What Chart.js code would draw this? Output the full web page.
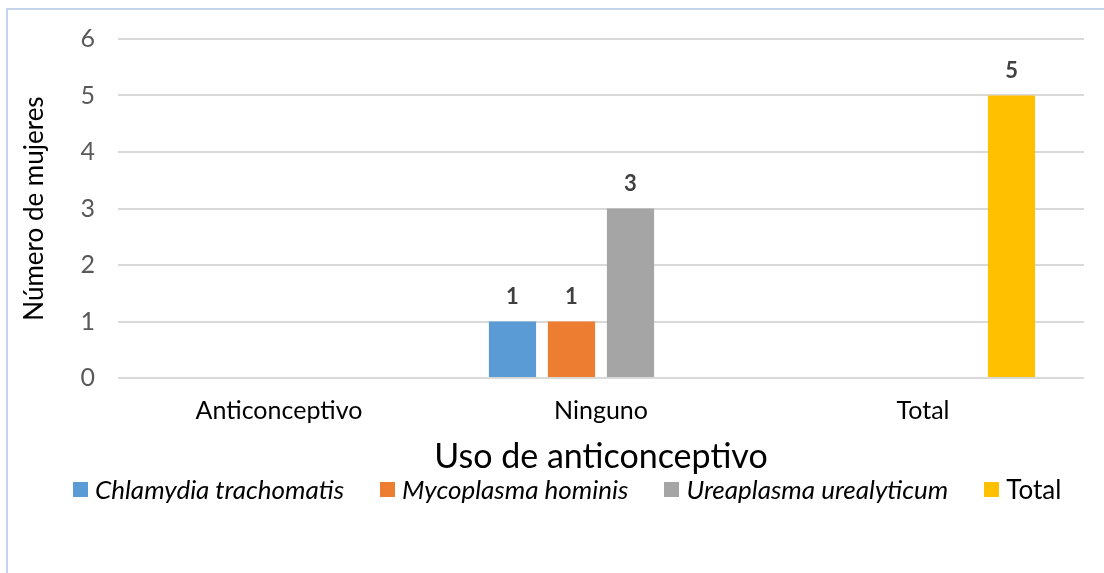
<!DOCTYPE html>
<html>
<head>
<meta charset="utf-8">
<script src="https://cdn.jsdelivr.net/npm/chart.js@4.4.1/dist/chart.umd.min.js"></script>
<style>
  html, body { margin: 0; padding: 0; background: #fff; overflow: hidden; }
  #wrap { position: relative; width: 1104px; height: 573px; overflow: hidden; }
  #frame { position: absolute; left: 6px; top: 8px; width: 1200px; height: 700px;
           border: 2px solid #C5D4EC; box-sizing: border-box; }
  #grafico { position: absolute; left: 0; top: 0; }
  #leyenda { position: absolute; left: 73px; top: 473px; display: flex; align-items: center;
             font-family: Lato, sans-serif; font-size: 26px; color: #000; }
  #leyenda .item { display: flex; align-items: center; margin-right: 36px; white-space: nowrap; }
  #leyenda .caja { width: 15px; height: 15px; margin-right: 7px; }
</style>
</head>
<body>
<div id="wrap">
  <div id="frame"></div>
  <canvas id="grafico" width="1104" height="573"></canvas>
  <div id="leyenda"></div>
</div>
<script>
// Datos del gráfico
var categorias = ['Anticonceptivo', 'Ninguno', 'Total'];
var series = ['Chlamydia trachomatis', 'Mycoplasma hominis', 'Ureaplasma urealyticum', 'Total'];
var chlamydia = [0, 1, 0];
var mycoplasma = [0, 1, 0];
var ureaplasma = [0, 3, 0];
var total = [0, 0, 5];
var ticksY = [0, 1, 2, 3, 4, 5, 6];

var colores = ['#5B9BD5', '#ED7D31', '#A5A5A5', '#FFC000'];
var cursiva = [true, true, true, false];
var valores = [chlamydia, mycoplasma, ureaplasma, total];

Chart.defaults.font.family = 'Lato, sans-serif';

// Etiquetas de datos encima de las barras (solo valores > 0)
var etiquetas = {
  id: 'etiquetas',
  afterDatasetsDraw: function (chart) {
    var ctx = chart.ctx;
    ctx.save();
    ctx.font = 'bold 22px Lato, sans-serif';
    ctx.fillStyle = '#404040';
    ctx.textAlign = 'center';
    ctx.textBaseline = 'bottom';
    chart.data.datasets.forEach(function (ds, i) {
      chart.getDatasetMeta(i).data.forEach(function (bar, j) {
        if (ds.data[j] > 0) ctx.fillText(ds.data[j], bar.x, bar.y - 14);
      });
    });
    ctx.restore();
  }
};

var data = {
  labels: categorias,
  datasets: series.map(function (nombre, i) {
    return {
      label: nombre,
      data: valores[i],
      backgroundColor: colores[i],
      borderWidth: 0,
      categoryPercentage: 0.733,
      barPercentage: 0.8
    };
  })
};

var options = {
  responsive: false,
  animation: false,
  layout: { padding: { left: 19, top: 39, right: 20, bottom: 96 } },
  plugins: { legend: { display: false }, tooltip: { enabled: false } },
  scales: {
    x: {
      grid: { display: false, drawTicks: false },
      border: { display: false },
      ticks: { color: '#000', font: { size: 25 }, padding: 18 },
      title: { display: true, text: 'Uso de anticonceptivo', color: '#000',
               font: { size: 34 }, padding: 0 },
      afterFit: function (s) { s.height = 99; }
    },
    y: {
      min: 0, max: 6,
      afterBuildTicks: function (s) { s.ticks = ticksY.map(function (v) { return { value: v }; }); },
      grid: { color: '#D9D9D9', lineWidth: 2, drawTicks: false },
      border: { display: false },
      ticks: { color: '#595959', font: { size: 25 }, padding: 23 },
      title: { display: true, text: 'Número de mujeres', color: '#000',
               font: { size: 26 }, padding: 0 },
      afterFit: function (s) { s.width = 99; }
    }
  }
};

var ctx = document.getElementById('grafico').getContext('2d');
new Chart(ctx, { type: 'bar', data: data, options: options, plugins: [etiquetas] });

// Leyenda con nombres de especies en cursiva
var leyenda = document.getElementById('leyenda');
series.forEach(function (nombre, i) {
  var item = document.createElement('div');
  item.className = 'item';
  var caja = document.createElement('span');
  caja.className = 'caja';
  caja.style.background = colores[i];
  var txt = document.createElement('span');
  txt.textContent = nombre;
  if (cursiva[i]) txt.style.fontStyle = 'italic';
  item.appendChild(caja);
  item.appendChild(txt);
  leyenda.appendChild(item);
});
</script>
</body>
</html>
